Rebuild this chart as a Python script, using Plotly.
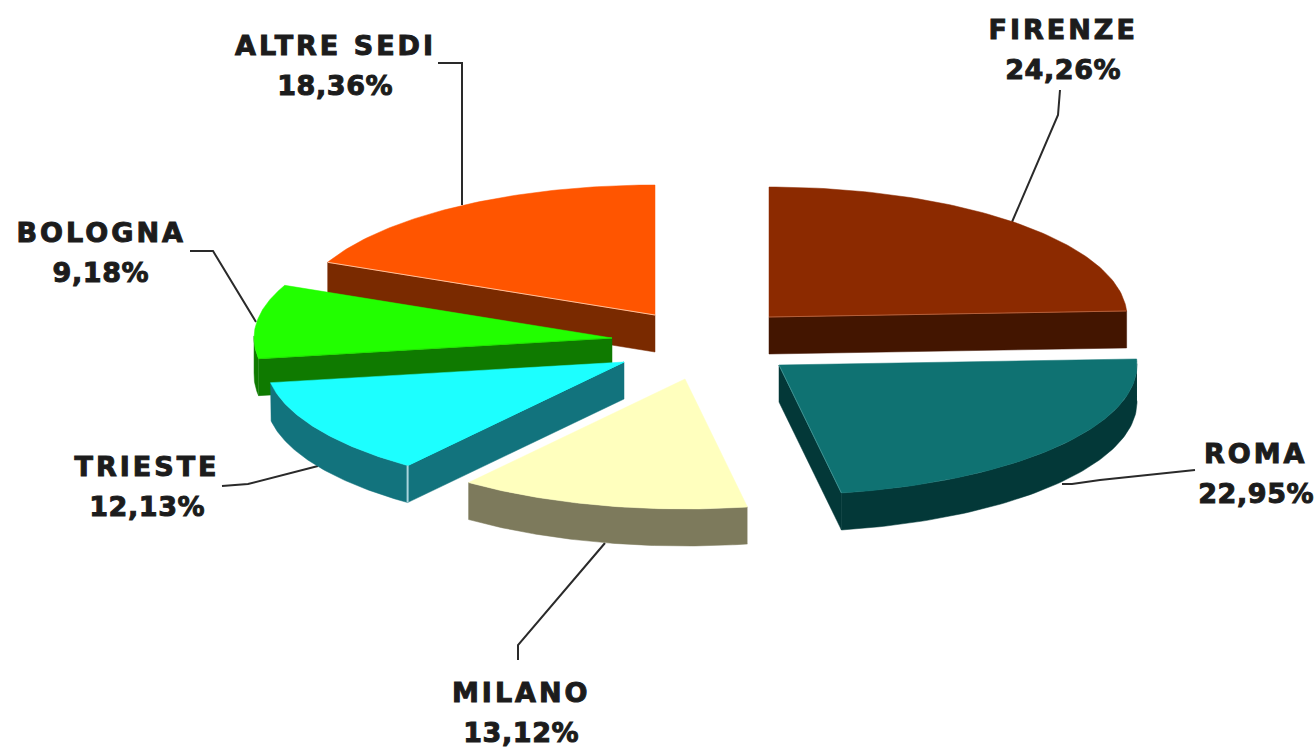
import numpy as np
import plotly.graph_objects as go

# --- data ---
sedi = ["FIRENZE", "ROMA", "MILANO", "TRIESTE", "BOLOGNA", "ALTRE SEDI"]
quote = [24.26, 22.95, 13.12, 12.13, 9.18, 18.36]

# --- style ---
top_col = ["#8C2A00", "#0F7272", "#FFFFBE", "#1CFFFF", "#22FF00", "#FF5500"]
wall_col = ["#431500", "#033838", "#7D7A5C", "#12737D", "#0F7A00", "#7A2A00"]
seam_col = {"FIRENZE": "#B5603A", "ROMA": "#3E9090", "ALTRE SEDI": "#FFC09A", "BOLOGNA": "#22E000", "TRIESTE": "#1CFFFF"}
centres = {"FIRENZE": (769, 317), "ROMA": (779, 365), "MILANO": (685, 379),
           "TRIESTE": (624, 362), "BOLOGNA": (612, 338), "ALTRE SEDI": (655, 315)}
RX, RY, DEPTH = 358, 130, 37
draw_order = ["ALTRE SEDI", "FIRENZE", "BOLOGNA", "TRIESTE", "ROMA", "MILANO"]
# which end of the wedge's arc carries the visible cut face (0 = start, -1 = end)
cut_end = {"FIRENZE": -1, "ROMA": -1, "TRIESTE": 0, "BOLOGNA": 0, "ALTRE SEDI": 0}

name_pos = {"FIRENZE": (1063, 29), "ROMA": (1256, 453), "MILANO": (521, 692),
            "TRIESTE": (147, 466), "BOLOGNA": (101, 232), "ALTRE SEDI": (335, 45)}
LINE_GAP = 40
leaders = {
    "FIRENZE": [(1060, 90), (1058, 115), (1012, 222)],
    "ROMA": [(1195, 470), (1100, 480), (1072, 484), (1062, 484)],
    "MILANO": [(518, 660), (518, 645), (605, 543)],
    "TRIESTE": [(222, 486), (248, 484), (318, 466)],
    "BOLOGNA": [(190, 251), (213, 251), (256, 322)],
    "ALTRE SEDI": [(438, 63), (462, 63), (462, 205)],
}

# --- wedge angles derived from the values ---
edges = 90 - np.concatenate([[0], np.cumsum(quote)]) * 3.6
fig = go.Figure()


def poly(x, y, colour):
    fig.add_trace(go.Scatter(x=x, y=y, mode="lines", fill="toself", fillcolor=colour,
                             line=dict(color=colour, width=0.5), hoverinfo="skip",
                             showlegend=False))


def seg(x, y, colour, width):
    fig.add_trace(go.Scatter(x=x, y=y, mode="lines", line=dict(color=colour, width=width),
                             hoverinfo="skip", showlegend=False))


for name, pts in leaders.items():
    xs, ys = zip(*pts)
    seg(xs, ys, "#2a2a2a", 2)

for name in draw_order:
    i = sedi.index(name)
    cx, cy = centres[name]
    t = np.radians(np.linspace(edges[i], edges[i + 1], 80))
    ax = cx + RX * np.cos(t)
    ay = cy - RY * np.sin(t)

    if name in cut_end:
        ex, ey = ax[cut_end[name]], ay[cut_end[name]]
        poly([cx, ex, ex, cx, cx], [cy, ey, ey + DEPTH, cy + DEPTH, cy], wall_col[i])

    near = np.sin(t) <= 0.02
    if near.any():
        rx_, ry_ = ax[near], ay[near]
        poly(np.r_[rx_, rx_[::-1]], np.r_[ry_, ry_[::-1] + DEPTH], wall_col[i])

    poly(np.r_[cx, ax, cx], np.r_[cy, ay, cy], top_col[i])

    if name in cut_end:
        ex, ey = ax[cut_end[name]], ay[cut_end[name]]
        seg([cx, ex], [cy, ey], seam_col[name], 1)
    if name == "TRIESTE":
        seg([ax[0], ax[0]], [ay[0], ay[0] + DEPTH], "#A8D4DC", 2)

annotations = []
for name, v in zip(sedi, quote):
    x, y = name_pos[name]
    annotations.append(dict(x=x, y=y, text=name, showarrow=False,
                            font=dict(family="DejaVu Sans", size=27, color="#1c1c1c", weight="bold")))
    annotations.append(dict(x=x, y=y + LINE_GAP, text=f"{v:.2f}".replace(".", ",") + "%", showarrow=False,
                            font=dict(family="DejaVu Sans", size=27, color="#1c1c1c", weight="bold")))

fig.update_layout(
    width=1316, height=747, margin=dict(l=0, r=0, t=0, b=0),
    paper_bgcolor="white", plot_bgcolor="white", showlegend=False,
    xaxis=dict(range=[0, 1316], visible=False),
    yaxis=dict(range=[747, 0], visible=False),
    annotations=annotations,
)
post = """
document.body.style.margin='0';
document.querySelectorAll('.annotation-text').forEach(function(el){
  var isPct = el.textContent.indexOf('%') >= 0;
  el.style.letterSpacing = isPct ? '0.6px' : '3px';
  el.style.stroke = '#1c1c1c';
  el.style.strokeWidth = '1px';
});
"""
fig.write_html("out.html", post_script=post, config={"displayModeBar": False})
